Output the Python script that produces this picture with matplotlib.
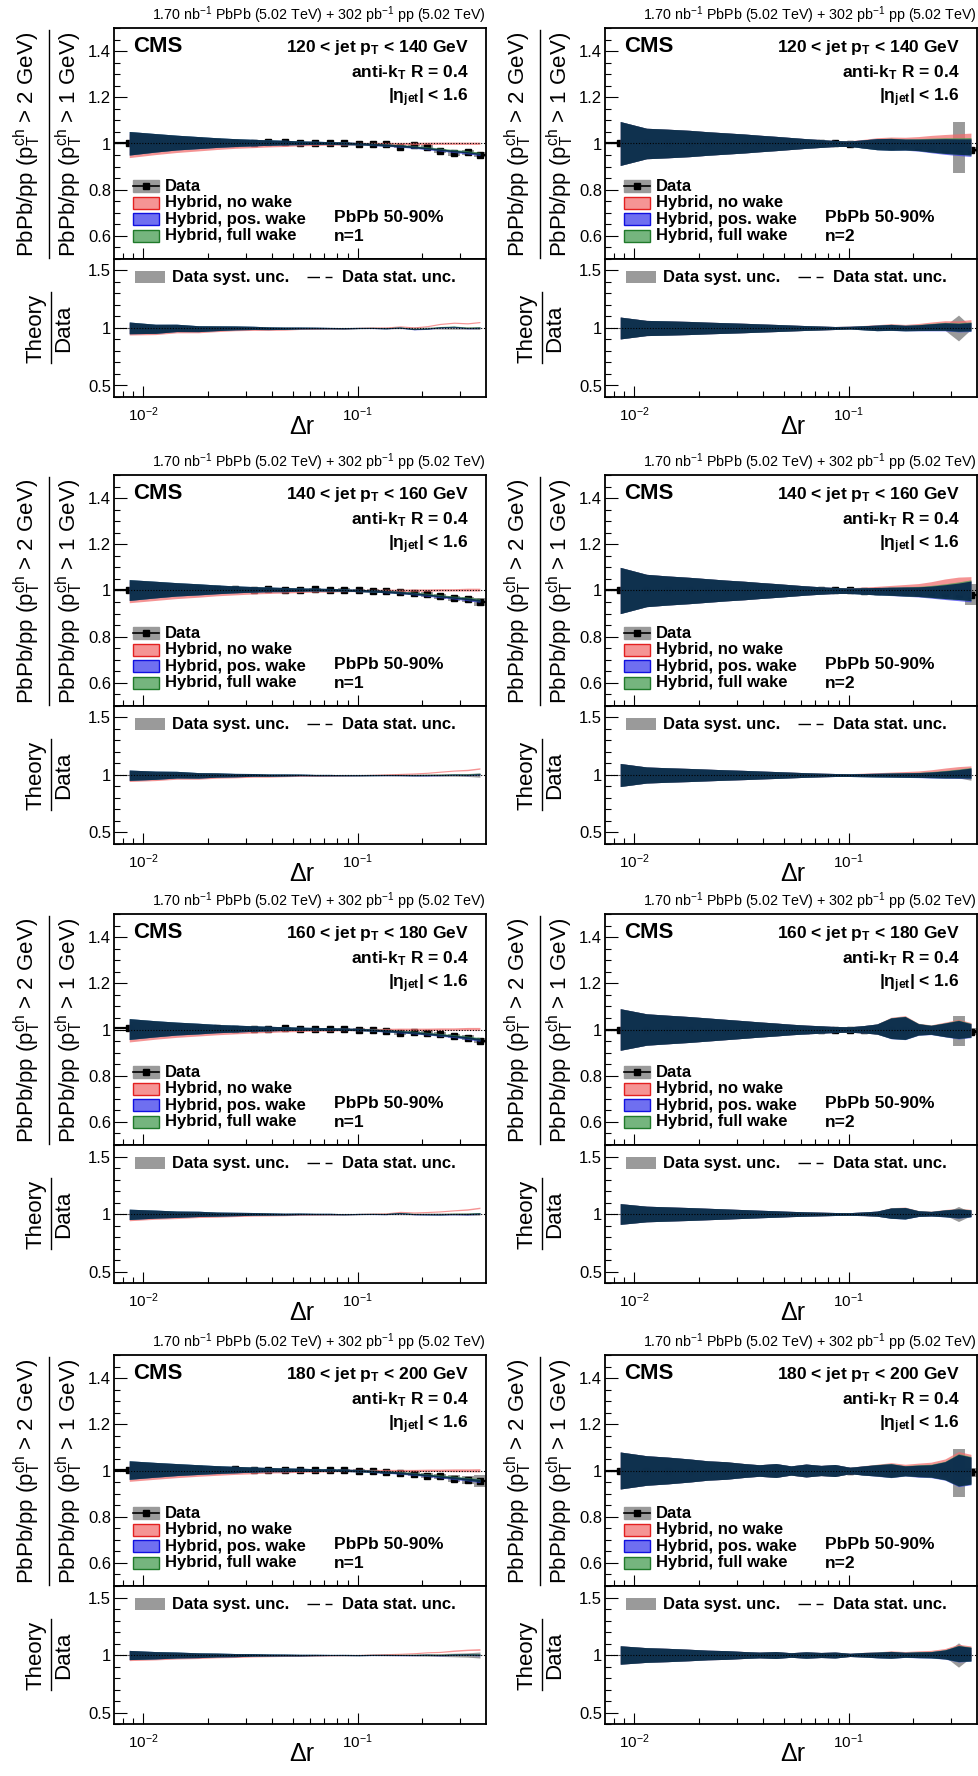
import numpy as np
import matplotlib
matplotlib.use("Agg")
import matplotlib.pyplot as plt
from matplotlib.patches import Rectangle
from matplotlib.lines import Line2D
from matplotlib.ticker import LogLocator, MultipleLocator, FuncFormatter, NullFormatter

plt.rcParams.update({
    "font.family": "Liberation Sans",
    "mathtext.fontset": "custom",
    "mathtext.rm": "Liberation Sans",
    "mathtext.it": "Liberation Sans:italic",
    "mathtext.bf": "Liberation Sans:bold",
    "mathtext.default": "regular",
})

# ---- data -----------------------------------------------------------------
dr = [0.0086, 0.0114, 0.0143, 0.0181, 0.0220, 0.0268, 0.0327, 0.0383, 0.0458, 0.0538, 0.0633, 0.0743,
      0.0863, 0.1014, 0.1175, 0.1355, 0.1577, 0.1834, 0.2117, 0.2422, 0.2815, 0.3255, 0.3720]

jet_bins = ["120 < jet p$_{\\mathbf{T}}$ < 140 GeV", "140 < jet p$_{\\mathbf{T}}$ < 160 GeV",
            "160 < jet p$_{\\mathbf{T}}$ < 180 GeV", "180 < jet p$_{\\mathbf{T}}$ < 200 GeV"]

# n = 1 : data points and systematic uncertainty (one list per jet pT bin)
data_n1 = [
    [1.000, 1.010, 1.003, 1.010, 1.006, 1.003, 1.003, 1.006, 1.006, 1.003, 1.003, 1.003, 1.003, 0.999, 0.996, 0.996, 0.986, 0.995, 0.985, 0.967, 0.957, 0.962, 0.952],
    [1.004, 1.006, 1.002, 1.008, 1.005, 1.006, 1.004, 1.006, 1.004, 1.003, 1.005, 1.004, 1.004, 1.002, 0.999, 0.996, 0.992, 0.989, 0.983, 0.975, 0.966, 0.962, 0.950],
    [1.005, 1.004, 1.006, 1.003, 1.005, 1.004, 1.003, 1.004, 1.005, 1.002, 1.003, 1.002, 1.003, 1.000, 0.997, 0.995, 0.983, 0.988, 0.984, 0.980, 0.971, 0.965, 0.952],
    [1.002, 1.005, 1.004, 1.006, 1.004, 1.005, 1.003, 1.004, 1.003, 1.004, 1.002, 1.002, 1.001, 1.000, 0.996, 0.993, 0.990, 0.985, 0.978, 0.975, 0.965, 0.958, 0.955],
]
syst_n1 = [
    [0.004, 0.004, 0.004, 0.004, 0.004, 0.004, 0.004, 0.004, 0.004, 0.004, 0.004, 0.004, 0.005, 0.005, 0.005, 0.006, 0.006, 0.007, 0.008, 0.009, 0.010, 0.010, 0.012],
    [0.004, 0.004, 0.004, 0.004, 0.004, 0.004, 0.004, 0.004, 0.004, 0.004, 0.004, 0.004, 0.005, 0.005, 0.006, 0.006, 0.007, 0.008, 0.009, 0.010, 0.010, 0.012, 0.018],
    [0.004, 0.004, 0.004, 0.004, 0.004, 0.004, 0.004, 0.004, 0.004, 0.004, 0.004, 0.004, 0.005, 0.005, 0.005, 0.006, 0.006, 0.007, 0.008, 0.008, 0.009, 0.010, 0.010],
    [0.004, 0.004, 0.004, 0.004, 0.004, 0.004, 0.004, 0.004, 0.004, 0.004, 0.004, 0.004, 0.005, 0.005, 0.005, 0.006, 0.006, 0.008, 0.010, 0.012, 0.015, 0.018, 0.025],
]
# n = 1 : hybrid model band centres and half widths
nowake_n1 = [
    [0.990, 0.992, 0.993, 0.994, 0.995, 0.996, 0.996, 0.997, 0.997, 0.998, 0.998, 0.999, 0.999, 1.000, 1.000, 1.000, 1.000, 1.000, 1.001, 1.001, 1.001, 1.001, 1.001],
    [0.992, 0.993, 0.994, 0.995, 0.996, 0.996, 0.997, 0.997, 0.998, 0.998, 0.999, 0.999, 1.000, 1.000, 1.000, 1.001, 1.001, 1.002, 1.002, 1.003, 1.003, 1.004, 1.004],
    [0.991, 0.993, 0.994, 0.995, 0.995, 0.996, 0.997, 0.997, 0.998, 0.998, 0.999, 0.999, 1.000, 1.000, 1.000, 1.000, 1.001, 1.001, 1.001, 1.002, 1.002, 1.003, 1.003],
    [0.993, 0.994, 0.995, 0.996, 0.996, 0.997, 0.997, 0.998, 0.998, 0.999, 0.999, 0.999, 1.000, 1.000, 1.000, 1.000, 1.000, 1.000, 1.001, 1.001, 1.001, 1.001, 1.001],
]
poswake_n1 = [
    [1.001, 1.003, 1.004, 1.004, 1.004, 1.004, 1.004, 1.004, 1.004, 1.003, 1.003, 1.002, 1.001, 0.999, 0.996, 0.993, 0.989, 0.984, 0.978, 0.972, 0.966, 0.960, 0.953],
    [1.002, 1.004, 1.005, 1.005, 1.005, 1.005, 1.005, 1.005, 1.004, 1.004, 1.004, 1.003, 1.002, 1.000, 0.998, 0.995, 0.991, 0.986, 0.980, 0.974, 0.968, 0.962, 0.955],
    [1.002, 1.003, 1.004, 1.004, 1.004, 1.004, 1.004, 1.004, 1.004, 1.003, 1.003, 1.002, 1.001, 1.000, 0.997, 0.994, 0.990, 0.986, 0.981, 0.976, 0.970, 0.963, 0.955],
    [1.002, 1.003, 1.004, 1.004, 1.004, 1.004, 1.004, 1.004, 1.003, 1.003, 1.002, 1.002, 1.001, 0.999, 0.996, 0.993, 0.989, 0.984, 0.979, 0.973, 0.967, 0.961, 0.955],
]
fullwake_n1 = [
    [1.001, 1.003, 1.004, 1.004, 1.004, 1.004, 1.004, 1.004, 1.004, 1.003, 1.003, 1.002, 1.001, 0.999, 0.997, 0.994, 0.991, 0.986, 0.981, 0.975, 0.969, 0.964, 0.957],
    [1.002, 1.004, 1.005, 1.005, 1.005, 1.005, 1.005, 1.005, 1.004, 1.004, 1.004, 1.003, 1.002, 1.000, 0.998, 0.996, 0.992, 0.988, 0.983, 0.977, 0.971, 0.966, 0.959],
    [1.002, 1.003, 1.004, 1.004, 1.004, 1.004, 1.004, 1.004, 1.004, 1.003, 1.003, 1.002, 1.001, 1.000, 0.998, 0.995, 0.992, 0.988, 0.983, 0.978, 0.973, 0.966, 0.959],
    [1.002, 1.003, 1.004, 1.004, 1.004, 1.004, 1.004, 1.004, 1.003, 1.003, 1.002, 1.002, 1.001, 0.999, 0.997, 0.994, 0.991, 0.986, 0.981, 0.976, 0.970, 0.964, 0.958],
]
width_n1 = [
    [0.051, 0.040, 0.032, 0.026, 0.021, 0.017, 0.014, 0.012, 0.010, 0.008, 0.007, 0.006, 0.006, 0.005, 0.005, 0.005, 0.005, 0.005, 0.005, 0.005, 0.005, 0.005, 0.005],
    [0.045, 0.036, 0.029, 0.024, 0.019, 0.015, 0.012, 0.010, 0.009, 0.007, 0.006, 0.006, 0.005, 0.005, 0.005, 0.005, 0.005, 0.005, 0.005, 0.005, 0.005, 0.006, 0.006],
    [0.045, 0.035, 0.028, 0.023, 0.018, 0.015, 0.012, 0.010, 0.008, 0.007, 0.006, 0.006, 0.005, 0.005, 0.005, 0.005, 0.005, 0.005, 0.005, 0.005, 0.005, 0.006, 0.006],
    [0.040, 0.032, 0.026, 0.021, 0.017, 0.014, 0.011, 0.009, 0.008, 0.007, 0.006, 0.005, 0.005, 0.005, 0.005, 0.005, 0.005, 0.005, 0.005, 0.005, 0.006, 0.006, 0.007],
]

# n = 2
data_n2 = [
    [1.000, 1.000, 1.000, 1.000, 1.000, 1.000, 1.000, 1.000, 1.000, 1.000, 1.000, 1.000, 1.000, 0.996, 0.996, 0.996, 0.991, 0.996, 0.991, 0.984, 0.977, 0.981, 0.974],
    [1.000, 1.000, 1.000, 1.000, 1.000, 1.000, 1.000, 1.000, 1.000, 1.000, 1.000, 1.000, 1.000, 1.000, 0.999, 0.998, 0.997, 0.996, 0.995, 0.993, 0.990, 0.986, 0.982],
    [1.000, 1.000, 1.000, 1.000, 1.000, 1.000, 1.000, 1.000, 1.000, 1.000, 1.000, 1.000, 1.000, 1.000, 0.999, 0.999, 0.998, 1.000, 0.997, 0.996, 0.993, 0.995, 0.990],
    [1.000, 1.000, 1.000, 1.000, 1.000, 1.000, 1.000, 1.000, 1.000, 1.000, 1.000, 1.000, 1.000, 0.999, 0.998, 1.000, 0.998, 0.997, 0.996, 0.996, 0.994, 0.990, 0.992],
]
syst_n2 = [
    [0.003, 0.003, 0.003, 0.003, 0.003, 0.003, 0.003, 0.003, 0.003, 0.003, 0.003, 0.003, 0.003, 0.003, 0.003, 0.003, 0.004, 0.004, 0.005, 0.008, 0.020, 0.110, 0.012],
    [0.003, 0.003, 0.003, 0.003, 0.003, 0.003, 0.003, 0.003, 0.003, 0.003, 0.003, 0.003, 0.003, 0.003, 0.003, 0.003, 0.003, 0.003, 0.005, 0.008, 0.012, 0.025, 0.045],
    [0.003, 0.003, 0.003, 0.003, 0.003, 0.003, 0.003, 0.003, 0.003, 0.003, 0.003, 0.003, 0.003, 0.003, 0.003, 0.003, 0.003, 0.006, 0.008, 0.008, 0.010, 0.065, 0.015],
    [0.003, 0.003, 0.003, 0.003, 0.003, 0.003, 0.003, 0.003, 0.003, 0.003, 0.003, 0.003, 0.003, 0.003, 0.003, 0.003, 0.003, 0.003, 0.003, 0.003, 0.015, 0.105, 0.020],
]
nowake_n2 = [
    [1.000, 1.000, 1.000, 1.000, 1.000, 1.000, 1.000, 1.000, 1.000, 1.000, 1.000, 1.000, 1.000, 1.000, 1.000, 1.001, 1.002, 1.003, 1.004, 1.005, 1.005, 1.006, 1.007],
    [1.000, 1.000, 1.000, 1.000, 1.000, 1.000, 1.000, 1.000, 1.000, 1.000, 1.000, 1.000, 1.000, 1.000, 1.001, 1.002, 1.004, 1.006, 1.008, 1.012, 1.018, 1.020, 1.015],
    [1.000, 1.000, 1.000, 1.000, 1.000, 1.000, 1.000, 1.000, 1.000, 1.000, 1.000, 1.000, 1.000, 1.000, 1.001, 1.002, 1.008, 1.010, 1.002, 1.000, 1.002, 1.004, 1.000],
    [1.000, 1.000, 1.000, 1.000, 1.000, 1.000, 1.000, 1.000, 1.000, 1.000, 1.000, 1.000, 1.000, 1.000, 1.001, 1.002, 1.004, 1.005, 1.006, 1.008, 1.010, 1.012, 1.010],
]
poswake_n2 = [
    [1.000, 1.000, 1.000, 1.000, 1.000, 1.000, 1.000, 1.000, 1.000, 1.000, 1.000, 1.000, 1.000, 0.999, 0.998, 0.997, 0.996, 0.995, 0.993, 0.990, 0.987, 0.984, 0.982],
    [1.000, 1.000, 1.000, 1.000, 1.000, 1.000, 1.000, 1.000, 1.000, 1.000, 1.000, 1.000, 1.000, 0.999, 0.998, 0.997, 0.996, 0.995, 0.994, 0.993, 0.993, 0.994, 0.996],
    [1.000, 1.000, 1.000, 1.000, 1.000, 1.000, 1.000, 1.000, 1.000, 1.000, 1.000, 1.000, 1.000, 1.000, 1.001, 1.002, 1.005, 1.006, 1.000, 0.998, 0.998, 0.999, 0.995],
    [1.000, 1.000, 1.000, 1.000, 1.000, 1.000, 1.000, 1.000, 1.000, 1.000, 1.000, 1.000, 1.000, 1.000, 1.000, 1.000, 0.999, 0.998, 0.997, 0.997, 0.998, 1.000, 0.998],
]
fullwake_n2 = [
    [1.000, 1.000, 1.000, 1.000, 1.000, 1.000, 1.000, 1.000, 1.000, 1.000, 1.000, 1.000, 1.000, 0.999, 0.998, 0.997, 0.997, 0.996, 0.995, 0.993, 0.991, 0.989, 0.988],
    [1.000, 1.000, 1.000, 1.000, 1.000, 1.000, 1.000, 1.000, 1.000, 1.000, 1.000, 1.000, 1.000, 0.999, 0.998, 0.997, 0.997, 0.996, 0.996, 0.996, 0.997, 0.999, 1.001],
    [1.000, 1.000, 1.000, 1.000, 1.000, 1.000, 1.000, 1.000, 1.000, 1.000, 1.000, 1.000, 1.000, 1.000, 1.001, 1.002, 1.006, 1.007, 1.001, 0.999, 0.999, 1.001, 0.997],
    [1.000, 1.000, 1.000, 1.000, 1.000, 1.000, 1.000, 1.000, 1.000, 1.000, 1.000, 1.000, 1.000, 1.000, 1.000, 1.001, 1.000, 0.999, 0.999, 0.999, 1.000, 1.003, 1.001],
]
width_n2 = [
    [0.095, 0.066, 0.062, 0.057, 0.051, 0.046, 0.041, 0.036, 0.031, 0.026, 0.021, 0.017, 0.013, 0.012, 0.018, 0.024, 0.026, 0.024, 0.026, 0.030, 0.034, 0.036, 0.038],
    [0.100, 0.070, 0.063, 0.057, 0.051, 0.045, 0.040, 0.035, 0.030, 0.025, 0.020, 0.016, 0.013, 0.012, 0.014, 0.016, 0.018, 0.020, 0.022, 0.026, 0.032, 0.038, 0.045],
    [0.090, 0.068, 0.062, 0.056, 0.050, 0.044, 0.038, 0.033, 0.028, 0.023, 0.019, 0.016, 0.013, 0.012, 0.016, 0.022, 0.045, 0.050, 0.025, 0.020, 0.030, 0.040, 0.030],
    [0.080, 0.064, 0.058, 0.050, 0.042, 0.038, 0.030, 0.025, 0.030, 0.020, 0.028, 0.022, 0.026, 0.014, 0.020, 0.025, 0.030, 0.022, 0.026, 0.028, 0.040, 0.070, 0.060],
]

# ---- style ----------------------------------------------------------------
W, H = 979, 1776
ROW_TOPS = [28, 475, 914, 1355]
COL_OFFS = [0, 491]
XLIM = (0.0073, 0.397)

RED = (0.95, 0.42, 0.42)
BLUE = (0.22, 0.22, 0.92)
GREEN = (0.25, 0.60, 0.30)
DARK = (0.0, 0.11, 0.275)
GRAY = "#9a9a9a"
HEADER = "1.70 nb$^{-1}$ PbPb (5.02 TeV) + 302 pb$^{-1}$ pp (5.02 TeV)"


def _style_x(ax, labels):
    ax.set_xscale("log")
    ax.set_xlim(*XLIM)
    ax.xaxis.set_major_locator(LogLocator(base=10, numticks=10))
    ax.xaxis.set_minor_locator(LogLocator(base=10, subs=np.arange(2, 10), numticks=20))
    ax.xaxis.set_minor_formatter(NullFormatter())
    ax.tick_params(axis="both", which="both", direction="in", top=False, right=False, width=0.8,
                   labelbottom=labels, labelsize=12, pad=2)
    ax.tick_params(axis="x", which="major", length=8, labelsize=11, pad=6)
    ax.tick_params(axis="x", which="minor", length=4.2)
    ax.tick_params(axis="y", which="major", length=9)
    ax.tick_params(axis="y", which="minor", length=4.3)
    ax.yaxis.set_major_formatter(FuncFormatter(lambda v, _: f"{v:g}"))
    for s in ax.spines.values():
        s.set_linewidth(1.3)


def _bands(ax, d, models, ratio):
    x = np.array(dr)
    den = d if ratio else 1.0
    edges = []
    for c, w, col in models:
        lo = (c - w) / den
        hi = (c + w) / den
        ax.fill_between(x, lo, hi, color=col, alpha=0.72, lw=0, zorder=3)
        edges.append((lo, hi))
    lo = np.maximum(edges[1][0], edges[2][0])
    hi = np.minimum(edges[1][1], edges[2][1])
    ax.fill_between(x, lo, hi, where=hi >= lo, interpolate=True, color=DARK, alpha=0.8, lw=0, zorder=4)


def _panel(fig, row, col, d, s, nw, pw, fw, w, n):
    top = ROW_TOPS[row]
    off = COL_OFFS[col]
    x = np.array(dr)
    d, s = np.array(d), np.array(s)
    models = [(np.array(nw), np.array(w), RED), (np.array(pw), np.array(w), BLUE),
              (np.array(fw), np.array(w), GREEN)]

    up = fig.add_axes([(114 + off) / W, 1 - (top + 231) / H, 372 / W, 231 / H])
    lo = fig.add_axes([(114 + off) / W, 1 - (top + 369) / H, 372 / W, 138 / H])

    # upper panel
    _style_x(up, False)
    up.set_ylim(0.5, 1.5)
    up.yaxis.set_major_locator(MultipleLocator(0.2))
    up.yaxis.set_minor_locator(MultipleLocator(0.05))
    up.vlines(x, d - s, d + s, color=GRAY, lw=8.6, zorder=2)
    up.plot(x, d, "s", color="black", ms=4.5, zorder=2.5)
    up.plot([XLIM[0], x[0]], [d[0], d[0]], color="black", lw=1.6, zorder=2.5)
    up.plot([x[-1], XLIM[1]], [d[-1], d[-1]], color="black", lw=1.6, zorder=2.5)
    _bands(up, d, models, False)
    up.axhline(1.0, color="black", ls=(0, (1, 1.5)), lw=0.8, zorder=6)

    up.text(1.0, 1.056, HEADER, transform=up.transAxes, ha="right", va="center", fontsize=10.3)
    up.text(0.051, 0.897, "CMS", transform=up.transAxes, ha="left", va="baseline",
            fontsize=16, fontweight="bold")
    up.text(0.954, 0.895, jet_bins[row], transform=up.transAxes, ha="right", va="baseline",
            fontsize=12.5, fontweight="bold")
    up.text(0.954, 0.786, "anti-k$_{\\mathbf{T}}$ R = 0.4", transform=up.transAxes, ha="right",
            va="baseline", fontsize=12.5, fontweight="bold")
    up.text(0.954, 0.681, "|$\\eta_{\\mathbf{jet}}$| < 1.6", transform=up.transAxes, ha="right",
            va="baseline", fontsize=12.5, fontweight="bold")
    up.text(0.591, 0.161, "PbPb 50-90%", transform=up.transAxes, ha="left", va="baseline",
            fontsize=12.5, fontweight="bold")
    up.text(0.591, 0.079, f"n={n}", transform=up.transAxes, ha="left", va="baseline",
            fontsize=12.5, fontweight="bold")

    entries = [("Data", GRAY, GRAY, 1.0), ("Hybrid, no wake", RED, "#e32020", 0.72),
               ("Hybrid, pos. wake", BLUE, "#1010e0", 0.72), ("Hybrid, full wake", GREEN, "#1f7a2a", 0.72)]
    for i, (lab, fc, ec, a) in enumerate(entries):
        yc = 0.316 - i * 0.072
        up.add_patch(Rectangle((0.051, yc - 0.026), 0.070, 0.052, transform=up.transAxes,
                               facecolor=fc, alpha=a, edgecolor="none", zorder=7))
        up.add_patch(Rectangle((0.051, yc - 0.026), 0.070, 0.052, transform=up.transAxes,
                               facecolor="none", edgecolor=ec, lw=1.0, zorder=7))
        if i == 0:
            up.plot([0.051, 0.121], [yc, yc], transform=up.transAxes, color="black", lw=1.2, zorder=8)
            up.plot([0.086], [yc], "s", transform=up.transAxes, color="black", ms=4.5, zorder=8)
        up.text(0.137, yc, lab, transform=up.transAxes, ha="left", va="center",
                fontsize=12, fontweight="bold", zorder=8)

    # lower panel
    _style_x(lo, True)
    lo.set_ylim(0.4, 1.6)
    lo.yaxis.set_major_locator(MultipleLocator(0.5))
    lo.yaxis.set_minor_locator(MultipleLocator(0.1))
    lo.fill_between(x, 1 - s / d, 1 + s / d, color=GRAY, lw=0, zorder=2)
    _bands(lo, d, models, True)
    lo.axhline(1.0, color="black", ls=(0, (1, 1.5)), lw=0.8, zorder=6)

    lo.add_patch(Rectangle((0.056, 0.826), 0.081, 0.087, transform=lo.transAxes,
                           facecolor=GRAY, edgecolor="none", zorder=7))
    lo.text(0.156, 0.869, "Data syst. unc.", transform=lo.transAxes, ha="left", va="center",
            fontsize=12, fontweight="bold")
    lo.add_line(Line2D([0.519, 0.589], [0.869, 0.869], transform=lo.transAxes, color="black",
                       lw=1.0, dashes=[9, 4, 5, 100]))
    lo.text(0.613, 0.869, "Data stat. unc.", transform=lo.transAxes, ha="left", va="center",
            fontsize=12, fontweight="bold")

    # axis titles (fractions)
    fig.text((27 + off) / W, 1 - (top + 116) / H, "PbPb/pp (p$_{T}^{ch}$ > 2 GeV)",
             rotation=90, ha="center", va="center", fontsize=16)
    fig.text((69 + off) / W, 1 - (top + 116) / H, "PbPb/pp (p$_{T}^{ch}$ > 1 GeV)",
             rotation=90, ha="center", va="center", fontsize=16)
    fig.add_artist(Line2D([(49 + off) / W] * 2, [1 - (top + 2) / H, 1 - (top + 230) / H],
                          transform=fig.transFigure, color="black", lw=1.0))
    fig.text((36 + off) / W, 1 - (top + 300) / H, "Theory", rotation=90, ha="center",
             va="center", fontsize=16)
    fig.text((64 + off) / W, 1 - (top + 300) / H, "Data", rotation=90, ha="center",
             va="center", fontsize=16)
    fig.add_artist(Line2D([(51 + off) / W] * 2, [1 - (top + 264) / H, 1 - (top + 335) / H],
                          transform=fig.transFigure, color="black", lw=1.0))
    fig.text((302 + off) / W, 1 - (top + 399) / H, "Δr", ha="center", va="center", fontsize=18)


fig = plt.figure(figsize=(W / 100, H / 100), dpi=100)
fig.patch.set_facecolor("white")
for r in range(4):
    _panel(fig, r, 0, data_n1[r], syst_n1[r], nowake_n1[r], poswake_n1[r], fullwake_n1[r], width_n1[r], 1)
    _panel(fig, r, 1, data_n2[r], syst_n2[r], nowake_n2[r], poswake_n2[r], fullwake_n2[r], width_n2[r], 2)

fig.savefig("out.png", dpi=100)
plt.close(fig)
